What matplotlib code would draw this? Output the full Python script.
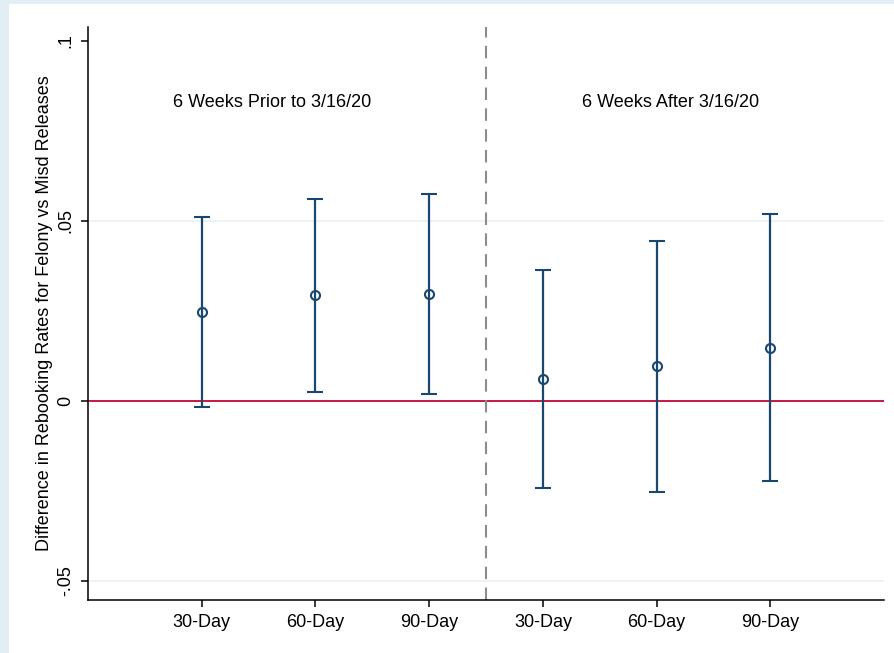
import matplotlib.pyplot as plt
import numpy as np

plt.rcParams["font.family"] = ["Liberation Sans", "DejaVu Sans"]

labels = ["30-Day", "60-Day", "90-Day", "30-Day", "60-Day", "90-Day"]
estimates = [0.0247, 0.0294, 0.0297, 0.0061, 0.0097, 0.0147]
ci_low = [-0.0017, 0.0025, 0.0019, -0.0242, -0.0253, -0.0222]
ci_high = [0.0511, 0.0561, 0.0575, 0.0364, 0.0444, 0.0519]
yticks = [-0.05, 0, 0.05, 0.1]
yticklabels = ["-.05", "0", ".05", ".1"]

navy = "#1a476f"
pos = np.arange(1, len(labels) + 1)
est = np.array(estimates)
err = np.vstack([est - np.array(ci_low), np.array(ci_high) - est])

fig = plt.figure(figsize=(8.94, 6.53), dpi=100, facecolor="#e1eff4")
# white page area
fig.patches.append(plt.Rectangle((9 / 894, 0), 1, 1 - 4 / 653, transform=fig.transFigure,
                                 facecolor="white", edgecolor="none", zorder=-10))
ax = fig.add_axes([88 / 894, 53 / 653, 796 / 894, 573 / 653])
ax.set_facecolor("white")

for g in [-0.05, 0.05]:
    ax.axhline(g, color="#eaf0f3", lw=1.2, zorder=0)
ax.axhline(0, color="#c10534", lw=1.3, zorder=1)
ax.axvline(3.5, color="#8c8c8c", lw=1.5, ls=(0, (6, 4)), zorder=1)

ax.errorbar(pos, est, yerr=err, fmt="o", color=navy, mfc="none", mec=navy,
            ms=6.5, mew=1.5, elinewidth=1.6, capsize=5.5, capthick=1.6, zorder=3)

ax.text(1.62, 0.083, "6 Weeks Prior to 3/16/20", ha="center", va="center", fontsize=13)
ax.text(5.12, 0.083, "6 Weeks After 3/16/20", ha="center", va="center", fontsize=13)

ax.set_xlim(0, 7)
ax.set_ylim(-0.0553, 0.1039)
ax.set_xticks(pos)
ax.set_xticklabels(labels, fontsize=13)
ax.set_yticks(yticks)
ax.set_yticklabels(yticklabels, fontsize=13, rotation=90, va="center")
ax.set_ylabel("Difference in Rebooking Rates for Felony vs Misd Releases", fontsize=13, labelpad=3)
ax.tick_params(direction="out", length=5, width=1.1, pad=5)
for s in ["top", "right"]:
    ax.spines[s].set_visible(False)
for s in ["left", "bottom"]:
    ax.spines[s].set_linewidth(1.1)

fig.savefig("out.png", dpi=100, facecolor=fig.get_facecolor())
